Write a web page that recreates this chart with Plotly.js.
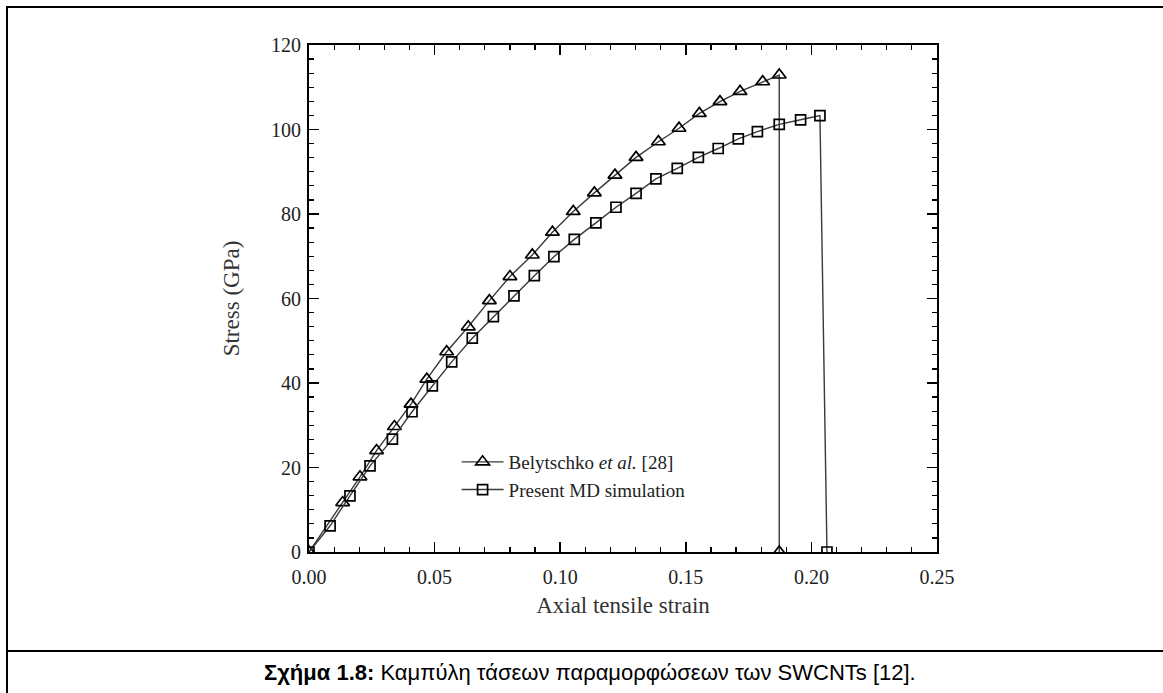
<!DOCTYPE html>
<html>
<head>
<meta charset="utf-8">
<script src="https://cdn.plot.ly/plotly-3.0.1.min.js"></script>
<style>
  html, body { margin: 0; padding: 0; background: #fff; }
  #wrap { position: relative; width: 1163px; height: 693px; overflow: hidden; }
  #chart { position: absolute; left: 0; top: 0; width: 1163px; height: 693px; }
  #frame { position: absolute; left: 6px; top: 6px; width: 1170px; height: 700px;
           border-left: 2px solid #000; border-top: 2px solid #000; pointer-events: none; }
  #sep { position: absolute; left: 6px; top: 650px; width: 1170px; height: 0;
         border-top: 2px solid #000; pointer-events: none; }
</style>
</head>
<body>
<div id="wrap">
  <div id="chart"></div>
  <div id="frame"></div>
  <div id="sep"></div>
</div>
<script>
// Belytschko et al. [28] (triangles)
const belStrain = [0, 0.0134, 0.0203, 0.0269, 0.0340, 0.0406, 0.0469, 0.0548, 0.0634, 0.0718,
                   0.0800, 0.0889, 0.0969, 0.1052, 0.1136, 0.1218, 0.1302, 0.1391, 0.1473,
                   0.1554, 0.1636, 0.1716, 0.1806, 0.1872, 0.1872];
const belStress = [0, 11.7, 17.8, 24.0, 29.7, 35.0, 40.9, 47.4, 53.3, 59.5,
                   65.2, 70.3, 75.7, 80.6, 85.0, 89.2, 93.4, 97.1, 100.3,
                   103.8, 106.6, 109.0, 111.3, 112.9, 0];

// Present MD simulation (squares)
const mdStrain = [0, 0.0084, 0.0163, 0.0243, 0.0332, 0.0410, 0.0491, 0.0568, 0.0650, 0.0734,
                  0.0816, 0.0897, 0.0975, 0.1056, 0.1142, 0.1222, 0.1302, 0.1381, 0.1466,
                  0.1550, 0.1629, 0.1709, 0.1785, 0.1872, 0.1957, 0.2034, 0.2062];
const mdStress = [0, 6.2, 13.3, 20.4, 26.7, 33.2, 39.3, 45.0, 50.6, 55.7,
                  60.6, 65.4, 69.9, 74.0, 77.9, 81.6, 84.9, 88.3, 90.8,
                  93.4, 95.5, 97.8, 99.5, 101.2, 102.3, 103.3, 0];

const seriesNames = ['Belytschko <i>et al.</i> [28]', 'Present MD simulation'];
const xTickVals = [0, 0.05, 0.10, 0.15, 0.20, 0.25];
const xTickText = ['0.00', '0.05', '0.10', '0.15', '0.20', '0.25'];
const yTickVals = [0, 20, 40, 60, 80, 100, 120];
const xTitle = 'Axial tensile strain';
const yTitle = 'Stress (GPa)';
const caption = '<b>Σχήμα 1.8:</b> Καμπύλη τάσεων παραμορφώσεων των SWCNTs [12].';

const serif = '"Liberation Serif", "Times New Roman", serif';

const traces = [
  {
    x: belStrain, y: belStress, name: seriesNames[0], type: 'scatter', mode: 'lines+markers',
    line: { color: '#3a3a3a', width: 1.4 },
    marker: { symbol: 'triangle-up-open', size: 12, color: '#000', line: { color: '#000', width: 1.7 } }
  },
  {
    x: mdStrain, y: mdStress, name: seriesNames[1], type: 'scatter', mode: 'lines+markers',
    line: { color: '#3a3a3a', width: 1.4 },
    marker: { symbol: 'square-open', size: 10, color: '#000', line: { color: '#000', width: 1.7 } }
  }
];

const axisCommon = {
  showgrid: false, zeroline: false,
  showline: true, linecolor: '#000', linewidth: 2,
  mirror: 'allticks', ticks: 'inside', ticklen: 10, tickwidth: 1.5, tickcolor: '#000',
  tickfont: { family: serif, size: 20, color: '#222' }
};

const layout = {
  width: 1163, height: 693,
  paper_bgcolor: '#fff', plot_bgcolor: '#fff',
  margin: { l: 309, r: 226, t: 45, b: 141 },
  showlegend: true,
  legend: {
    x: 0.235, y: 0.215, xanchor: 'left', yanchor: 'top',
    bgcolor: 'rgba(0,0,0,0)', borderwidth: 0,
    font: { family: serif, size: 19, color: '#222' },
    itemwidth: 42, tracegroupgap: 8
  },
  xaxis: Object.assign({}, axisCommon, {
    range: [0, 0.25], tickvals: xTickVals, ticktext: xTickText,
    ticklabelstandoff: 6,
    minor: { dtick: 0.01, ticks: 'inside', ticklen: 5, tickwidth: 1.2, tickcolor: '#000' },
    title: { text: xTitle, font: { family: serif, size: 23, color: '#333' }, standoff: 10 }
  }),
  yaxis: Object.assign({}, axisCommon, {
    range: [0, 120], tickvals: yTickVals,
    ticklabelstandoff: 2,
    minor: { tick0: 0, dtick: 20 / 6, ticks: 'inside', ticklen: 5, tickwidth: 1.2, tickcolor: '#000' },
    title: { text: yTitle, font: { family: serif, size: 23, color: '#333' }, standoff: 25 }
  }),
  annotations: [
    {
      text: caption, xref: 'paper', yref: 'paper', x: 0.448, y: -0.237,
      xanchor: 'center', yanchor: 'middle', showarrow: false,
      font: { family: '"Liberation Sans", Arial, sans-serif', size: 22, color: '#000' }
    }
  ]
};

Plotly.newPlot('chart', traces, layout, { staticPlot: true, displayModeBar: false });
</script>
</body>
</html>
